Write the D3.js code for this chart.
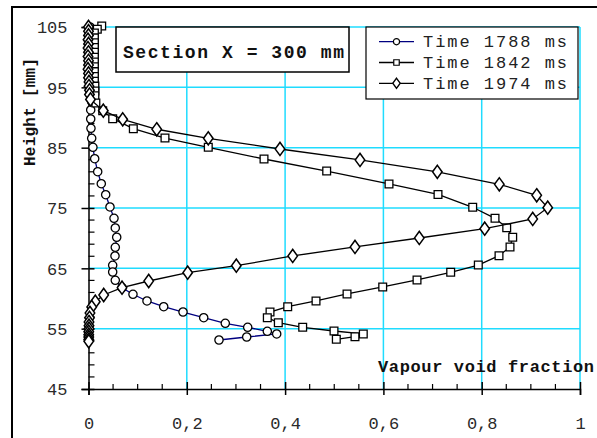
<!DOCTYPE html>
<html><head><meta charset="utf-8">
<script src="https://cdn.jsdelivr.net/npm/d3@7"></script>
<style>body{margin:0;background:#fff}svg{display:block}text{font-family:"Liberation Mono",monospace}</style>
</head><body><svg id="c" width="597" height="438"></svg>
<script>
// ---- data ----
const seriesNames = ["Time 1788 ms", "Time 1842 ms", "Time 1974 ms"];
const xTicks = [0, 0.2, 0.4, 0.6, 0.8, 1];
const xTickLabels = ["0", "0,2", "0,4", "0,6", "0,8", "1"];
const yTicks = [45, 55, 65, 75, 85, 95, 105];
const yTickLabels = ["45", "55", "65", "75", "85", "95", "105"];

const t1788Void = [0.003,0.002,0.002,0.002,0.002,0.002,0.002,0.002,0.002,0.002,0.002,0.002,0.002,0.003,
  0.0045,0.0065,0.0045,0.0045,0.005,0.0065,0.009,0.0126,0.0187,0.026,0.035,0.0437,0.0519,0.0545,0.0574,0.0545,0.0539,0.0492,0.0492,0.0545,0.0682,0.0905,0.119,0.153,0.1923,0.2344,0.2783,0.3239,0.3638,0.3829,0.3219,0.2655];
const t1788Height = [105.0,104.2,103.4,102.6,101.8,101.0,100.2,99.4,98.6,97.8,97.0,96.2,95.3,94.5,
  93.57,92.62,91.25,89.75,88.21,86.55,85.06,83.17,81.02,79.03,77.2,75.17,73.29,71.69,70.15,68.49,67.05,65.5,64.39,63.02,61.79,60.7,59.59,58.64,57.76,56.82,55.89,55.23,54.56,54.12,53.62,53.12];

const t1842Void = [0.0269,0.0179,0.012,0.012,0.012,0.012,0.012,0.012,0.012,0.012,0.012,0.012,0.012,0.013,0.013,0.013,
  0.015,0.0289,0.0492,0.0912,0.1556,0.2437,0.3571,0.4846,0.6114,0.7111,0.7817,0.8271,0.8509,0.8631,0.8576,0.8352,0.7931,0.7369,0.6684,0.5986,0.526,0.4629,0.4053,0.3693,0.3638,0.3862,0.4358,0.4995,0.5591,0.5422,0.5042];
const t1842Height = [105.17,104.62,104.0,103.2,102.4,101.6,100.8,100.0,99.2,98.4,97.6,96.8,96.0,95.2,94.4,93.6,
  92.4,91.13,89.8,88.15,86.6,85.06,83.12,81.13,78.98,77.24,75.12,73.29,71.74,70.14,68.54,67.1,65.55,64.34,63.07,61.91,60.75,59.59,58.64,57.76,56.82,55.99,55.23,54.61,54.12,53.67,53.24];

const t1974Void = [0.0,0.0,0.0,-0.001,0.0,-0.001,0.0,-0.001,0.0,0.0,-0.001,0.0,0.0,0.001,0.001,0.002,0.002,0.004,
  0.0301,0.0696,0.1388,0.2437,0.3896,0.5524,0.7097,0.8358,0.9119,0.9343,0.9038,0.8061,0.673,0.5422,0.4155,0.3007,0.2018,0.1225,0.0682,0.0309,0.0138,0.0065,
  0.003,0.002,0.001,0.001,0.001,0.0005,0.0005,0.0005,0.0005,0.0005];
const t1974Height = [105.0,104.3,103.6,102.9,102.2,101.5,100.8,100.1,99.4,98.7,98.0,97.3,96.6,95.9,95.2,94.5,93.8,93.0,
  91.13,89.7,88.05,86.55,84.78,82.96,81.0,78.93,77.11,75.05,73.18,71.57,70.03,68.54,67.05,65.44,64.28,62.9,61.79,60.58,59.47,58.59,
  57.6,56.8,56.1,55.5,55.0,54.5,54.0,53.6,53.2,52.9];

// ---- chart ----
const svg = d3.select("#c");
const x = d3.scaleLinear().domain([0, 1]).range([88.5, 580]);
const y = d3.scaleLinear().domain([45, 105]).range([389, 27]);
const gridColor = "#1fdcff";

// outer frame
svg.append("rect").attr("x", 12).attr("y", 7).attr("width", 600).attr("height", 450)
  .attr("fill", "#fff").attr("stroke", "#000").attr("stroke-width", 2);

// grid
const grid = svg.append("g");
grid.selectAll(".gx").data(xTicks.filter(d => d > 0)).join("line")
  .attr("x1", d => x(d)).attr("x2", d => x(d)).attr("y1", y(105)).attr("y2", y(45))
  .attr("stroke", gridColor).attr("stroke-width", 1.5);
grid.selectAll(".gy").data(yTicks.filter(d => d > 45)).join("line")
  .attr("x1", x(0)).attr("x2", x(1)).attr("y1", d => y(d)).attr("y2", d => y(d))
  .attr("stroke", gridColor).attr("stroke-width", 1.5);

// axes
const xAxis = svg.append("g").attr("transform", `translate(0,${y(45)})`)
  .call(d3.axisBottom(x).tickValues(xTicks).tickSize(6).tickPadding(22).tickFormat((d, i) => xTickLabels[i]));
const yAxis = svg.append("g").attr("transform", `translate(${x(0)},0)`)
  .call(d3.axisLeft(y).tickValues(yTicks).tickSize(7).tickPadding(14).tickFormat((d, i) => yTickLabels[i]));
[xAxis, yAxis].forEach(g => {
  g.select(".domain").attr("stroke", "#000").attr("stroke-width", 1.5);
  g.selectAll(".tick line").attr("stroke", "#000").attr("stroke-width", 1.5);
  g.selectAll(".tick text").attr("font-family", "Liberation Mono").attr("font-size", 17).attr("fill", "#2a2a2a");
});
// major ticks cross the axes
xAxis.selectAll(".tick").append("line").attr("y1", 0).attr("y2", -7).attr("stroke", "#000").attr("stroke-width", 1.5);
yAxis.selectAll(".tick").append("line").attr("x1", 0).attr("x2", 6).attr("stroke", "#000").attr("stroke-width", 1.5);
yAxis.selectAll(".tick text").attr("dy", "0.35em");
xAxis.selectAll(".tick text").attr("dy", "0.7em");
// minor ticks
const xMinor = d3.range(0, 1.0001, 0.05).filter(v => Math.abs(v * 5 - Math.round(v * 5)) > 1e-6);
svg.append("g").selectAll("line").data(xMinor).join("line")
  .attr("x1", d => x(d)).attr("x2", d => x(d)).attr("y1", y(45)).attr("y2", y(45) - 5)
  .attr("stroke", "#000").attr("stroke-width", 1.2);
const yMinor = d3.range(45, 105.001, 2).filter(v => (v - 45) % 10 !== 0);
svg.append("g").selectAll("line").data(yMinor).join("line")
  .attr("x1", x(0)).attr("x2", x(0) + 6).attr("y1", d => y(d)).attr("y2", d => y(d))
  .attr("stroke", "#000").attr("stroke-width", 1.2);

// axis titles
svg.append("text").attr("x", 378).attr("y", 372).attr("font-weight", "bold").attr("font-size", 17)
  .attr("textLength", 216).attr("lengthAdjust", "spacing").attr("fill", "#111").text("Vapour void fraction");
svg.append("text").attr("transform", "translate(35,112) rotate(-90)").attr("text-anchor", "middle")
  .attr("font-weight", "bold").attr("font-size", 16).attr("textLength", 108).attr("lengthAdjust", "spacing")
  .attr("fill", "#111").text("Height [mm]");

// series
const line = d3.line().x(d => x(d[0])).y(d => y(d[1]));
const series = [
  {name: seriesNames[0], data: d3.zip(t1788Void, t1788Height), color: "#000080", marker: "circle"},
  {name: seriesNames[1], data: d3.zip(t1842Void, t1842Height), color: "#000", marker: "square"},
  {name: seriesNames[2], data: d3.zip(t1974Void, t1974Height), color: "#000", marker: "diamond"}
];
const sym = {circle: d3.symbol(d3.symbolCircle, 54), square: d3.symbol(d3.symbolSquare, 60), diamond: d3.symbol(d3.symbolDiamond, 50)};
series.forEach(s => {
  const g = svg.append("g");
  g.append("path").attr("d", line(s.data)).attr("fill", "none").attr("stroke", s.color).attr("stroke-width", 1.3);
  g.selectAll("path.m").data(s.data).join("path").attr("class", "m")
    .attr("transform", d => `translate(${x(d[0])},${y(d[1])})${s.marker === "diamond" ? " scale(1.25,1)" : ""}`)
    .attr("d", sym[s.marker]()).attr("fill", "#fff").attr("stroke", "#000").attr("stroke-width", 1.3);
});

// title box
svg.append("rect").attr("x", 116).attr("y", 27).attr("width", 233).attr("height", 45)
  .attr("fill", "#fff").attr("stroke", "#000").attr("stroke-width", 1.5);
svg.append("text").attr("x", 123).attr("y", 58).attr("font-weight", "bold").attr("font-size", 18)
  .attr("textLength", 221).attr("lengthAdjust", "spacing").attr("fill", "#111").text("Section X = 300 mm");

// legend
const lg = svg.append("g");
lg.append("rect").attr("x", 366).attr("y", 27).attr("width", 212).attr("height", 72)
  .attr("fill", "#fff").attr("stroke", "#000").attr("stroke-width", 1.2);
series.forEach((s, i) => {
  const cy = 41.7 + i * 20.8;
  lg.append("line").attr("x1", 379).attr("x2", 414).attr("y1", cy).attr("y2", cy).attr("stroke", s.color).attr("stroke-width", 1.3);
  lg.append("path").attr("transform", `translate(396.5,${cy})${s.marker === "diamond" ? " scale(1.25,1)" : ""}`)
    .attr("d", d3.symbol(s.marker === "circle" ? d3.symbolCircle : s.marker === "square" ? d3.symbolSquare : d3.symbolDiamond, 30)())
    .attr("fill", "#fff").attr("stroke", "#000").attr("stroke-width", 1.2);
  lg.append("text").attr("x", 423).attr("y", cy + 5.5).attr("font-size", 17)
    .attr("textLength", 144).attr("lengthAdjust", "spacing").attr("fill", "#222").text(s.name);
});
</script></body></html>
